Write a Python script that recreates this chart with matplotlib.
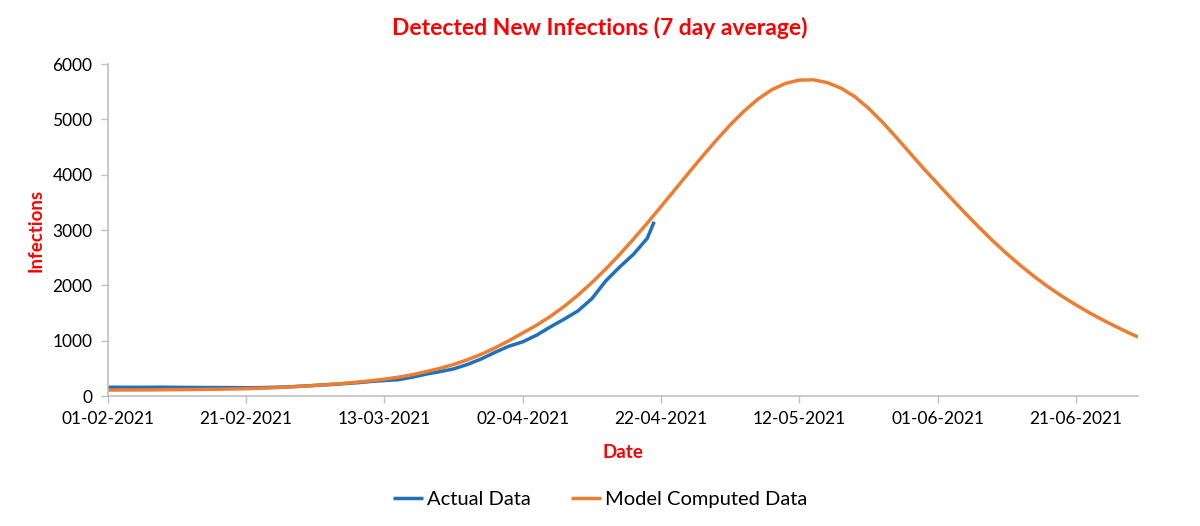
import datetime as dt
import matplotlib
matplotlib.use("Agg")
import matplotlib.pyplot as plt
import matplotlib.dates as mdates

# days after 01-02-2021
model_days = list(range(0, 149, 2)) + [149]
model_vals = [108, 109, 110, 111, 113, 116, 118, 121, 124, 128,
              133, 140, 150, 162, 176, 192, 210, 228, 250, 275,
              305, 340, 385, 440, 500, 570, 655, 755, 870, 1000,
              1140, 1280, 1440, 1620, 1825, 2050, 2295, 2557, 2835, 3125,
              3425, 3730, 4035, 4335, 4625, 4900, 5150, 5365, 5535, 5650,
              5710, 5715, 5665, 5565, 5410, 5200, 4950, 4675, 4390, 4105,
              3835, 3565, 3300, 3045, 2800, 2570, 2355, 2155, 1970, 1800,
              1645, 1500, 1365, 1240, 1120, 1065]

actual_days = list(range(0, 79, 2)) + [79]
actual_vals = [160, 158, 157, 158, 160, 157, 155, 154, 153, 152,
               150, 152, 158, 165, 178, 192, 205, 222, 240, 262,
               280, 295, 340, 395, 440, 490, 570, 670, 790, 900,
               980, 1100, 1250, 1390, 1540, 1760, 2080, 2330, 2560, 2850,
               3150]

start = dt.datetime(2021, 2, 1)
tick_dates = [start + dt.timedelta(days=20 * i) for i in range(8)]
y_ticks = [0, 1000, 2000, 3000, 4000, 5000, 6000]

blue = "#1f70bd"
orange = "#ed7d31"
red = "#ff0000"
grey = "#bfbfbf"

plt.rcParams["font.family"] = ["Lato", "DejaVu Sans"]

fig = plt.figure(figsize=(12, 5.26), dpi=100)
ax = fig.add_axes([0.0898, 0.2471, 0.8588, 0.6312])

ax.plot([start + dt.timedelta(days=d) for d in actual_days], actual_vals,
        color=blue, lw=2.5, label="Actual Data", solid_capstyle="butt",
        solid_joinstyle="round")
ax.plot([start + dt.timedelta(days=d) for d in model_days], model_vals,
        color=orange, lw=2.5, label="Model Computed Data", solid_capstyle="butt",
        solid_joinstyle="round")

ax.set_xlim(start, start + dt.timedelta(days=149))
ax.set_ylim(0, 6000)
ax.set_xticks(tick_dates)
ax.xaxis.set_major_formatter(mdates.DateFormatter("%d-%m-%Y"))
ax.set_yticks(y_ticks)

for s in ["top", "right"]:
    ax.spines[s].set_visible(False)
for s in ["left", "bottom"]:
    ax.spines[s].set_color(grey)
    ax.spines[s].set_linewidth(1.2)
ax.tick_params(axis="both", colors=grey, length=5, width=1, labelsize=12.5,
               labelcolor="black", pad=6)

ax.set_xlabel("Date", color=red, fontsize=13.5, fontweight="bold", labelpad=12)
ax.set_ylabel("Infections", color=red, fontsize=13.5, fontweight="bold", labelpad=6)
fig.text(0.5, 0.947, "Detected New Infections (7 day average)", color=red,
         fontsize=16.5, fontweight="bold", ha="center", va="center")

fig.legend(loc="center", bbox_to_anchor=(0.5, 0.05), ncol=2, frameon=False,
           fontsize=14.5, handlelength=1.5, handletextpad=0.2, columnspacing=2.0)

fig.savefig("out.png", dpi=100)
